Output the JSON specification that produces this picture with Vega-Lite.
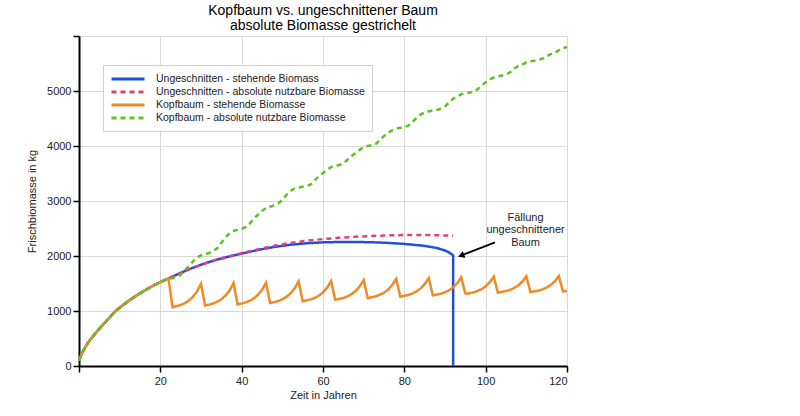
{
  "$schema": "https://vega.github.io/schema/vega-lite/v6.json",
  "width": 488,
  "height": 330,
  "autosize": {"type": "none"},
  "padding": {"left": 79, "top": 36, "right": 233, "bottom": 50},
  "background": "white",
  "title": {
    "text": ["Kopfbaum vs. ungeschnittener Baum", "absolute Biomasse gestrichelt"],
    "font": "Liberation Sans",
    "fontSize": 14,
    "fontWeight": "normal",
    "color": "black",
    "anchor": "middle",
    "lineHeight": 15,
    "offset": 2
  },
  "config": {
    "view": {"stroke": null},
    "font": "Liberation Sans",
    "axis": {
      "domainColor": "black",
      "domainWidth": 2,
      "tickColor": "black",
      "tickWidth": 1.5,
      "tickSize": 6,
      "gridColor": "#d9d9d9",
      "gridWidth": 1,
      "labelFont": "Liberation Sans",
      "labelFontSize": 11,
      "labelColor": "#222222",
      "titleFont": "Liberation Sans",
      "titleFontSize": 11,
      "titleFontWeight": "normal",
      "titleColor": "#222222"
    }
  },
  "datasets": {
    "kurven": [
      {"serie": "a", "jahr": 0, "kg": 100}, {"serie": "a", "jahr": 1, "kg": 270}, {"serie": "a", "jahr": 2, "kg": 400},
      {"serie": "a", "jahr": 3, "kg": 500}, {"serie": "a", "jahr": 4, "kg": 590}, {"serie": "a", "jahr": 5, "kg": 680},
      {"serie": "a", "jahr": 6, "kg": 760}, {"serie": "a", "jahr": 7, "kg": 840}, {"serie": "a", "jahr": 8, "kg": 920},
      {"serie": "a", "jahr": 9, "kg": 1000}, {"serie": "a", "jahr": 10, "kg": 1060}, {"serie": "a", "jahr": 11, "kg": 1120},
      {"serie": "a", "jahr": 12, "kg": 1175}, {"serie": "a", "jahr": 13, "kg": 1225}, {"serie": "a", "jahr": 14, "kg": 1275},
      {"serie": "a", "jahr": 15, "kg": 1320}, {"serie": "a", "jahr": 16, "kg": 1365}, {"serie": "a", "jahr": 17, "kg": 1410},
      {"serie": "a", "jahr": 18, "kg": 1450}, {"serie": "a", "jahr": 19, "kg": 1490}, {"serie": "a", "jahr": 20, "kg": 1525},
      {"serie": "a", "jahr": 21, "kg": 1560}, {"serie": "a", "jahr": 22, "kg": 1590}, {"serie": "a", "jahr": 23, "kg": 1625},
      {"serie": "a", "jahr": 24, "kg": 1660}, {"serie": "a", "jahr": 26, "kg": 1725}, {"serie": "a", "jahr": 28, "kg": 1785},
      {"serie": "a", "jahr": 30, "kg": 1840}, {"serie": "a", "jahr": 32, "kg": 1890}, {"serie": "a", "jahr": 34, "kg": 1935},
      {"serie": "a", "jahr": 36, "kg": 1975}, {"serie": "a", "jahr": 38, "kg": 2010}, {"serie": "a", "jahr": 40, "kg": 2045},
      {"serie": "a", "jahr": 44, "kg": 2110}, {"serie": "a", "jahr": 48, "kg": 2165}, {"serie": "a", "jahr": 52, "kg": 2205},
      {"serie": "a", "jahr": 56, "kg": 2232}, {"serie": "a", "jahr": 60, "kg": 2248}, {"serie": "a", "jahr": 64, "kg": 2255},
      {"serie": "a", "jahr": 68, "kg": 2255}, {"serie": "a", "jahr": 72, "kg": 2250}, {"serie": "a", "jahr": 76, "kg": 2238},
      {"serie": "a", "jahr": 80, "kg": 2220}, {"serie": "a", "jahr": 84, "kg": 2192}, {"serie": "a", "jahr": 86, "kg": 2172},
      {"serie": "a", "jahr": 88, "kg": 2145}, {"serie": "a", "jahr": 90, "kg": 2100}, {"serie": "a", "jahr": 91, "kg": 2065},
      {"serie": "a", "jahr": 92, "kg": 2010}, {"serie": "a", "jahr": 92, "kg": 0},

      {"serie": "b", "jahr": 0, "kg": 100}, {"serie": "b", "jahr": 1, "kg": 270}, {"serie": "b", "jahr": 2, "kg": 400},
      {"serie": "b", "jahr": 3, "kg": 500}, {"serie": "b", "jahr": 4, "kg": 590}, {"serie": "b", "jahr": 5, "kg": 680},
      {"serie": "b", "jahr": 6, "kg": 760}, {"serie": "b", "jahr": 7, "kg": 840}, {"serie": "b", "jahr": 8, "kg": 920},
      {"serie": "b", "jahr": 9, "kg": 1000}, {"serie": "b", "jahr": 10, "kg": 1060}, {"serie": "b", "jahr": 11, "kg": 1120},
      {"serie": "b", "jahr": 12, "kg": 1175}, {"serie": "b", "jahr": 13, "kg": 1225}, {"serie": "b", "jahr": 14, "kg": 1275},
      {"serie": "b", "jahr": 15, "kg": 1320}, {"serie": "b", "jahr": 16, "kg": 1365}, {"serie": "b", "jahr": 17, "kg": 1410},
      {"serie": "b", "jahr": 18, "kg": 1450}, {"serie": "b", "jahr": 19, "kg": 1490}, {"serie": "b", "jahr": 20, "kg": 1525},
      {"serie": "b", "jahr": 21, "kg": 1560}, {"serie": "b", "jahr": 22, "kg": 1590}, {"serie": "b", "jahr": 23, "kg": 1625},
      {"serie": "b", "jahr": 24, "kg": 1660}, {"serie": "b", "jahr": 26, "kg": 1725}, {"serie": "b", "jahr": 28, "kg": 1785},
      {"serie": "b", "jahr": 30, "kg": 1840}, {"serie": "b", "jahr": 32, "kg": 1890}, {"serie": "b", "jahr": 34, "kg": 1935},
      {"serie": "b", "jahr": 36, "kg": 1975}, {"serie": "b", "jahr": 38, "kg": 2012}, {"serie": "b", "jahr": 40, "kg": 2050},
      {"serie": "b", "jahr": 44, "kg": 2120}, {"serie": "b", "jahr": 48, "kg": 2185}, {"serie": "b", "jahr": 52, "kg": 2238},
      {"serie": "b", "jahr": 56, "kg": 2278}, {"serie": "b", "jahr": 60, "kg": 2308}, {"serie": "b", "jahr": 64, "kg": 2332},
      {"serie": "b", "jahr": 68, "kg": 2350}, {"serie": "b", "jahr": 72, "kg": 2365}, {"serie": "b", "jahr": 76, "kg": 2375},
      {"serie": "b", "jahr": 80, "kg": 2380}, {"serie": "b", "jahr": 84, "kg": 2382}, {"serie": "b", "jahr": 88, "kg": 2378},
      {"serie": "b", "jahr": 92, "kg": 2370},

      {"serie": "c", "jahr": 0, "kg": 100}, {"serie": "c", "jahr": 1, "kg": 270}, {"serie": "c", "jahr": 2, "kg": 400},
      {"serie": "c", "jahr": 3, "kg": 500}, {"serie": "c", "jahr": 4, "kg": 590}, {"serie": "c", "jahr": 5, "kg": 680},
      {"serie": "c", "jahr": 6, "kg": 760}, {"serie": "c", "jahr": 7, "kg": 840}, {"serie": "c", "jahr": 8, "kg": 920},
      {"serie": "c", "jahr": 9, "kg": 1000}, {"serie": "c", "jahr": 10, "kg": 1060}, {"serie": "c", "jahr": 11, "kg": 1120},
      {"serie": "c", "jahr": 12, "kg": 1175}, {"serie": "c", "jahr": 13, "kg": 1225}, {"serie": "c", "jahr": 14, "kg": 1275},
      {"serie": "c", "jahr": 15, "kg": 1320}, {"serie": "c", "jahr": 16, "kg": 1365}, {"serie": "c", "jahr": 17, "kg": 1410},
      {"serie": "c", "jahr": 18, "kg": 1450}, {"serie": "c", "jahr": 19, "kg": 1490}, {"serie": "c", "jahr": 20, "kg": 1525},
      {"serie": "c", "jahr": 21, "kg": 1560}, {"serie": "c", "jahr": 22, "kg": 1590},
      {"serie": "c", "jahr": 23, "kg": 1070}, {"serie": "c", "jahr": 24, "kg": 1087}, {"serie": "c", "jahr": 25, "kg": 1108},
      {"serie": "c", "jahr": 26, "kg": 1142}, {"serie": "c", "jahr": 27, "kg": 1189}, {"serie": "c", "jahr": 28, "kg": 1257},
      {"serie": "c", "jahr": 29, "kg": 1354}, {"serie": "c", "jahr": 30, "kg": 1494},
      {"serie": "c", "jahr": 31, "kg": 1100}, {"serie": "c", "jahr": 32, "kg": 1116}, {"serie": "c", "jahr": 33, "kg": 1137},
      {"serie": "c", "jahr": 34, "kg": 1169}, {"serie": "c", "jahr": 35, "kg": 1214}, {"serie": "c", "jahr": 36, "kg": 1279},
      {"serie": "c", "jahr": 37, "kg": 1372}, {"serie": "c", "jahr": 38, "kg": 1506},
      {"serie": "c", "jahr": 39, "kg": 1120}, {"serie": "c", "jahr": 40, "kg": 1136}, {"serie": "c", "jahr": 41, "kg": 1156},
      {"serie": "c", "jahr": 42, "kg": 1187}, {"serie": "c", "jahr": 43, "kg": 1231}, {"serie": "c", "jahr": 44, "kg": 1294},
      {"serie": "c", "jahr": 45, "kg": 1385}, {"serie": "c", "jahr": 46, "kg": 1515},
      {"serie": "c", "jahr": 47, "kg": 1145}, {"serie": "c", "jahr": 48, "kg": 1161}, {"serie": "c", "jahr": 49, "kg": 1181},
      {"serie": "c", "jahr": 50, "kg": 1212}, {"serie": "c", "jahr": 51, "kg": 1256}, {"serie": "c", "jahr": 52, "kg": 1319},
      {"serie": "c", "jahr": 53, "kg": 1410}, {"serie": "c", "jahr": 54, "kg": 1540},
      {"serie": "c", "jahr": 55, "kg": 1178}, {"serie": "c", "jahr": 56, "kg": 1193}, {"serie": "c", "jahr": 57, "kg": 1211},
      {"serie": "c", "jahr": 58, "kg": 1240}, {"serie": "c", "jahr": 59, "kg": 1281}, {"serie": "c", "jahr": 60, "kg": 1339},
      {"serie": "c", "jahr": 61, "kg": 1424}, {"serie": "c", "jahr": 62, "kg": 1545},
      {"serie": "c", "jahr": 63, "kg": 1205}, {"serie": "c", "jahr": 64, "kg": 1219}, {"serie": "c", "jahr": 65, "kg": 1237},
      {"serie": "c", "jahr": 66, "kg": 1266}, {"serie": "c", "jahr": 67, "kg": 1306}, {"serie": "c", "jahr": 68, "kg": 1363},
      {"serie": "c", "jahr": 69, "kg": 1446}, {"serie": "c", "jahr": 70, "kg": 1565},
      {"serie": "c", "jahr": 71, "kg": 1235}, {"serie": "c", "jahr": 72, "kg": 1249}, {"serie": "c", "jahr": 73, "kg": 1267},
      {"serie": "c", "jahr": 74, "kg": 1295}, {"serie": "c", "jahr": 75, "kg": 1333}, {"serie": "c", "jahr": 76, "kg": 1389},
      {"serie": "c", "jahr": 77, "kg": 1470}, {"serie": "c", "jahr": 78, "kg": 1585},
      {"serie": "c", "jahr": 79, "kg": 1262}, {"serie": "c", "jahr": 80, "kg": 1276}, {"serie": "c", "jahr": 81, "kg": 1292},
      {"serie": "c", "jahr": 82, "kg": 1319}, {"serie": "c", "jahr": 83, "kg": 1357}, {"serie": "c", "jahr": 84, "kg": 1411},
      {"serie": "c", "jahr": 85, "kg": 1488}, {"serie": "c", "jahr": 86, "kg": 1600},
      {"serie": "c", "jahr": 87, "kg": 1285}, {"serie": "c", "jahr": 88, "kg": 1298}, {"serie": "c", "jahr": 89, "kg": 1315},
      {"serie": "c", "jahr": 90, "kg": 1341}, {"serie": "c", "jahr": 91, "kg": 1377}, {"serie": "c", "jahr": 92, "kg": 1430},
      {"serie": "c", "jahr": 93, "kg": 1506}, {"serie": "c", "jahr": 94, "kg": 1615},
      {"serie": "c", "jahr": 95, "kg": 1310}, {"serie": "c", "jahr": 96, "kg": 1323}, {"serie": "c", "jahr": 97, "kg": 1338},
      {"serie": "c", "jahr": 98, "kg": 1364}, {"serie": "c", "jahr": 99, "kg": 1398}, {"serie": "c", "jahr": 100, "kg": 1449},
      {"serie": "c", "jahr": 101, "kg": 1521}, {"serie": "c", "jahr": 102, "kg": 1625},
      {"serie": "c", "jahr": 103, "kg": 1335}, {"serie": "c", "jahr": 104, "kg": 1347}, {"serie": "c", "jahr": 105, "kg": 1362},
      {"serie": "c", "jahr": 106, "kg": 1385}, {"serie": "c", "jahr": 107, "kg": 1418}, {"serie": "c", "jahr": 108, "kg": 1465},
      {"serie": "c", "jahr": 109, "kg": 1533}, {"serie": "c", "jahr": 110, "kg": 1630},
      {"serie": "c", "jahr": 111, "kg": 1345}, {"serie": "c", "jahr": 112, "kg": 1357}, {"serie": "c", "jahr": 113, "kg": 1371},
      {"serie": "c", "jahr": 114, "kg": 1394}, {"serie": "c", "jahr": 115, "kg": 1426}, {"serie": "c", "jahr": 116, "kg": 1473},
      {"serie": "c", "jahr": 117, "kg": 1539}, {"serie": "c", "jahr": 118, "kg": 1635},
      {"serie": "c", "jahr": 119, "kg": 1355}, {"serie": "c", "jahr": 120, "kg": 1365},

      {"serie": "d", "jahr": 0, "kg": 100}, {"serie": "d", "jahr": 1, "kg": 270}, {"serie": "d", "jahr": 2, "kg": 400},
      {"serie": "d", "jahr": 3, "kg": 500}, {"serie": "d", "jahr": 4, "kg": 590}, {"serie": "d", "jahr": 5, "kg": 680},
      {"serie": "d", "jahr": 6, "kg": 760}, {"serie": "d", "jahr": 7, "kg": 840}, {"serie": "d", "jahr": 8, "kg": 920},
      {"serie": "d", "jahr": 9, "kg": 1000}, {"serie": "d", "jahr": 10, "kg": 1060}, {"serie": "d", "jahr": 11, "kg": 1120},
      {"serie": "d", "jahr": 12, "kg": 1175}, {"serie": "d", "jahr": 13, "kg": 1225}, {"serie": "d", "jahr": 14, "kg": 1275},
      {"serie": "d", "jahr": 15, "kg": 1320}, {"serie": "d", "jahr": 16, "kg": 1365}, {"serie": "d", "jahr": 17, "kg": 1410},
      {"serie": "d", "jahr": 18, "kg": 1450}, {"serie": "d", "jahr": 19, "kg": 1490}, {"serie": "d", "jahr": 20, "kg": 1525},
      {"serie": "d", "jahr": 21, "kg": 1560}, {"serie": "d", "jahr": 22, "kg": 1590},
      {"serie": "d", "jahr": 23, "kg": 1595}, {"serie": "d", "jahr": 24, "kg": 1615}, {"serie": "d", "jahr": 25, "kg": 1660},
      {"serie": "d", "jahr": 26, "kg": 1740}, {"serie": "d", "jahr": 27, "kg": 1810}, {"serie": "d", "jahr": 28, "kg": 1900},
      {"serie": "d", "jahr": 29, "kg": 1975}, {"serie": "d", "jahr": 30, "kg": 2010}, {"serie": "d", "jahr": 31, "kg": 2030},
      {"serie": "d", "jahr": 32, "kg": 2055}, {"serie": "d", "jahr": 33, "kg": 2095}, {"serie": "d", "jahr": 34, "kg": 2140},
      {"serie": "d", "jahr": 35, "kg": 2240}, {"serie": "d", "jahr": 36, "kg": 2340}, {"serie": "d", "jahr": 37, "kg": 2410},
      {"serie": "d", "jahr": 38, "kg": 2455}, {"serie": "d", "jahr": 39, "kg": 2475}, {"serie": "d", "jahr": 40, "kg": 2495},
      {"serie": "d", "jahr": 41, "kg": 2525}, {"serie": "d", "jahr": 42, "kg": 2590}, {"serie": "d", "jahr": 43, "kg": 2680},
      {"serie": "d", "jahr": 44, "kg": 2750}, {"serie": "d", "jahr": 45, "kg": 2820}, {"serie": "d", "jahr": 46, "kg": 2870},
      {"serie": "d", "jahr": 47, "kg": 2895}, {"serie": "d", "jahr": 48, "kg": 2920}, {"serie": "d", "jahr": 49, "kg": 2955},
      {"serie": "d", "jahr": 50, "kg": 3020}, {"serie": "d", "jahr": 51, "kg": 3110}, {"serie": "d", "jahr": 52, "kg": 3180},
      {"serie": "d", "jahr": 53, "kg": 3225}, {"serie": "d", "jahr": 54, "kg": 3245}, {"serie": "d", "jahr": 55, "kg": 3260},
      {"serie": "d", "jahr": 56, "kg": 3275}, {"serie": "d", "jahr": 57, "kg": 3300}, {"serie": "d", "jahr": 58, "kg": 3380},
      {"serie": "d", "jahr": 59, "kg": 3450}, {"serie": "d", "jahr": 60, "kg": 3510}, {"serie": "d", "jahr": 61, "kg": 3570},
      {"serie": "d", "jahr": 62, "kg": 3615}, {"serie": "d", "jahr": 63, "kg": 3640}, {"serie": "d", "jahr": 64, "kg": 3655},
      {"serie": "d", "jahr": 65, "kg": 3680}, {"serie": "d", "jahr": 66, "kg": 3750}, {"serie": "d", "jahr": 67, "kg": 3820},
      {"serie": "d", "jahr": 68, "kg": 3870}, {"serie": "d", "jahr": 69, "kg": 3930}, {"serie": "d", "jahr": 70, "kg": 3975},
      {"serie": "d", "jahr": 71, "kg": 4000}, {"serie": "d", "jahr": 72, "kg": 4015}, {"serie": "d", "jahr": 73, "kg": 4040},
      {"serie": "d", "jahr": 74, "kg": 4110}, {"serie": "d", "jahr": 75, "kg": 4180}, {"serie": "d", "jahr": 76, "kg": 4240},
      {"serie": "d", "jahr": 77, "kg": 4285}, {"serie": "d", "jahr": 78, "kg": 4315}, {"serie": "d", "jahr": 79, "kg": 4330},
      {"serie": "d", "jahr": 80, "kg": 4345}, {"serie": "d", "jahr": 81, "kg": 4370}, {"serie": "d", "jahr": 82, "kg": 4440},
      {"serie": "d", "jahr": 83, "kg": 4510}, {"serie": "d", "jahr": 84, "kg": 4570}, {"serie": "d", "jahr": 85, "kg": 4610},
      {"serie": "d", "jahr": 86, "kg": 4630}, {"serie": "d", "jahr": 87, "kg": 4640}, {"serie": "d", "jahr": 88, "kg": 4655},
      {"serie": "d", "jahr": 89, "kg": 4680}, {"serie": "d", "jahr": 90, "kg": 4720}, {"serie": "d", "jahr": 91, "kg": 4790},
      {"serie": "d", "jahr": 92, "kg": 4860}, {"serie": "d", "jahr": 93, "kg": 4900}, {"serie": "d", "jahr": 94, "kg": 4940},
      {"serie": "d", "jahr": 95, "kg": 4955}, {"serie": "d", "jahr": 96, "kg": 4970}, {"serie": "d", "jahr": 97, "kg": 4990},
      {"serie": "d", "jahr": 98, "kg": 5030}, {"serie": "d", "jahr": 99, "kg": 5100}, {"serie": "d", "jahr": 100, "kg": 5160},
      {"serie": "d", "jahr": 101, "kg": 5210}, {"serie": "d", "jahr": 102, "kg": 5245}, {"serie": "d", "jahr": 103, "kg": 5265},
      {"serie": "d", "jahr": 104, "kg": 5280}, {"serie": "d", "jahr": 105, "kg": 5300}, {"serie": "d", "jahr": 106, "kg": 5340},
      {"serie": "d", "jahr": 107, "kg": 5410}, {"serie": "d", "jahr": 108, "kg": 5450}, {"serie": "d", "jahr": 109, "kg": 5480},
      {"serie": "d", "jahr": 110, "kg": 5520}, {"serie": "d", "jahr": 111, "kg": 5540}, {"serie": "d", "jahr": 112, "kg": 5550},
      {"serie": "d", "jahr": 113, "kg": 5565}, {"serie": "d", "jahr": 114, "kg": 5590}, {"serie": "d", "jahr": 115, "kg": 5630},
      {"serie": "d", "jahr": 116, "kg": 5670}, {"serie": "d", "jahr": 117, "kg": 5700}, {"serie": "d", "jahr": 118, "kg": 5740},
      {"serie": "d", "jahr": 119, "kg": 5780}, {"serie": "d", "jahr": 120, "kg": 5800}
    ]
  },
  "layer": [
    {
      "data": {"name": "kurven"},
      "encoding": {
        "x": {
          "field": "jahr",
          "type": "quantitative",
          "scale": {"domain": [0, 120], "nice": false},
          "axis": {
            "title": "Zeit in Jahren",
            "values": [0, 20, 40, 60, 80, 100, 120],
            "labelExpr": "datum.value == 0 ? '' : datum.label",
            "labelPadding": 3,
            "titlePadding": 3,
            "grid": true
          }
        },
        "y": {
          "field": "kg",
          "type": "quantitative",
          "scale": {"domain": [0, 6000], "nice": false},
          "axis": {
            "title": "Frischbiomasse in kg",
            "values": [0, 1000, 2000, 3000, 4000, 5000, 6000],
            "labelExpr": "datum.value == 6000 ? '' : datum.label",
            "format": "d",
            "labelPadding": 2,
            "titlePadding": 9,
            "grid": true
          }
        },
        "order": {"value": null},
        "color": {
          "field": "serie",
          "type": "nominal",
          "scale": {
            "domain": ["a", "b", "c", "d"],
            "range": ["#1f4fdc", "#e23f78", "#ef8a26", "#5cc322"]
          },
          "legend": {
            "orient": "none",
            "legendX": 24,
            "legendY": 29,
            "title": null,
            "labelExpr": "datum.value == 'a' ? 'Ungeschnitten - stehende Biomass' : datum.value == 'b' ? 'Ungeschnitten - absolute nutzbare Biomasse' : datum.value == 'c' ? 'Kopfbaum - stehende Biomasse' : 'Kopfbaum - absolute nutzbare Biomasse'",
            "labelLimit": 0,
            "symbolType": "M-3,0H3",
            "symbolSize": 121,
            "symbolOffset": 11,
            "symbolStrokeWidth": 3,
            "labelFont": "Liberation Sans",
            "labelFontSize": 10.5,
            "labelColor": "#222222",
            "labelOffset": 21,
            "strokeColor": "#d0d0d0",
            "fillColor": "white",
            "padding": 7,
            "rowPadding": -1
          }
        },
        "strokeDash": {
          "field": "serie",
          "type": "nominal",
          "scale": {
            "domain": ["a", "b", "c", "d"],
            "range": [[1, 0], [5, 4], [1, 0], [5, 4]]
          },
          "legend": null
        }
      },
      "layer": [
        {"transform": [{"filter": "datum.serie == 'a'"}], "mark": {"type": "line", "strokeWidth": 2.5}},
        {"transform": [{"filter": "datum.serie == 'b'"}], "mark": {"type": "line", "strokeWidth": 2.5}},
        {"transform": [{"filter": "datum.serie == 'c'"}], "mark": {"type": "line", "strokeWidth": 2.5}},
        {"transform": [{"filter": "datum.serie == 'd'"}], "mark": {"type": "line", "strokeWidth": 2.5}}
      ]
    },
    {
      "data": {"values": [{}]},
      "mark": {"type": "rule", "color": "black", "strokeWidth": 1.8},
      "encoding": {
        "x": {"datum": 102.3, "type": "quantitative"},
        "y": {"datum": 2249, "type": "quantitative"},
        "x2": {"datum": 94.2},
        "y2": {"datum": 2015}
      }
    },
    {
      "data": {"values": [{}]},
      "mark": {"type": "point", "shape": "triangle", "filled": true, "color": "black", "size": 55, "angle": 249, "opacity": 1},
      "encoding": {
        "x": {"datum": 94.2, "type": "quantitative"},
        "y": {"datum": 2015, "type": "quantitative"}
      }
    },
    {
      "data": {"values": [{}]},
      "mark": {
        "type": "text",
        "text": "Fällung\nungeschnittener\nBaum",
        "lineBreak": "\n",
        "font": "Liberation Sans",
        "fontSize": 11,
        "lineHeight": 12.5,
        "align": "center",
        "baseline": "middle",
        "color": "#222222"
      },
      "encoding": {
        "x": {"datum": 109.8, "type": "quantitative"},
        "y": {"datum": 2694, "type": "quantitative"}
      }
    }
  ]
}
